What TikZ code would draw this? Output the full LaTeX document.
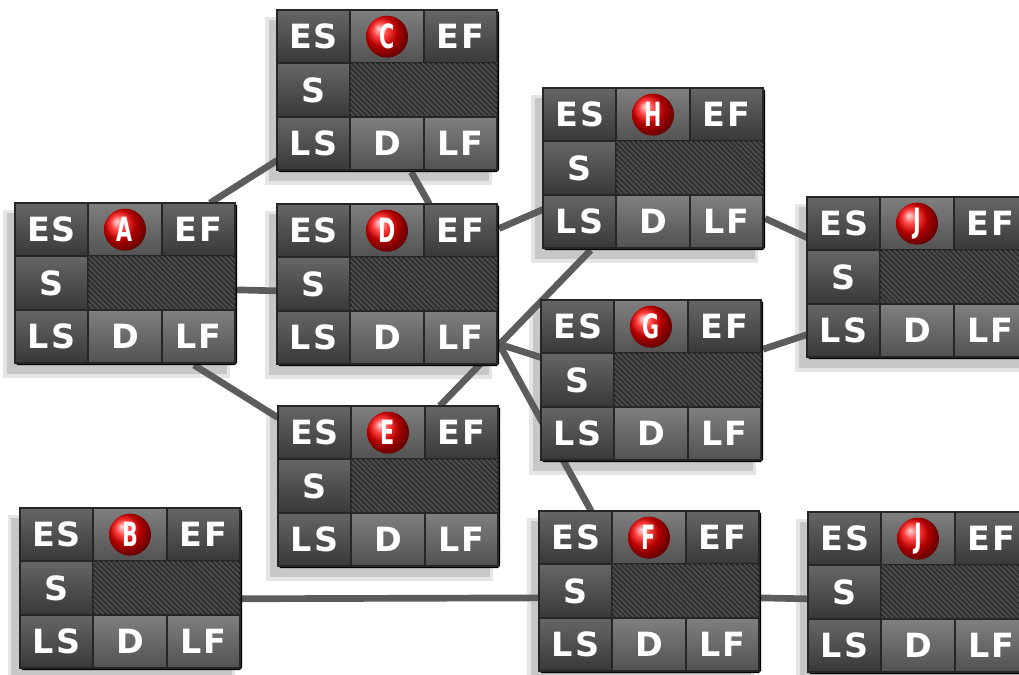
\documentclass[tikz,border=0pt]{standalone}
\usepackage{fontspec}
\usepackage{tikz}
\usetikzlibrary{positioning}
\usetikzlibrary{patterns}
\usetikzlibrary{shadings}
\newfontfamily\cellfamily[LetterSpace=6]{DejaVu Sans}
\newfontfamily\ballfamily[FakeStretch=0.62]{DejaVu Sans}
\pgfdeclarelayer{shade}
\pgfdeclarelayer{back}
\pgfsetlayers{shade,back,main}
\tikzset{
    actbox/.style={rectangle, draw=black, line width=1.2pt, rounded corners=1pt,
        minimum width=4.4cm, minimum height=3.2cm, inner sep=0pt, anchor=north west},
    cell/.style={rectangle, draw=black!85, line width=1pt, inner sep=0pt,
        minimum width=1.4667cm, minimum height=1.0667cm,
        top color=black!60, bottom color=black!78, text=white,
        font=\cellfamily\bfseries\fontsize{19}{19}\selectfont},
    lightcell/.style={cell, top color=black!50, bottom color=black!68},
    hatch/.style={rectangle, draw=black!85, line width=1pt, inner sep=0pt,
        minimum width=2.9333cm, minimum height=1.0667cm, fill=black!80,
        postaction={pattern=north west lines, pattern color=black!62}},
    ball/.style={circle, ball color=red, minimum size=0.84cm, inner sep=0pt,
        text=white, font=\ballfamily\bfseries\fontsize{19}{19}\selectfont},
    link/.style={line width=3.8pt, draw=black!64}
}
\newcommand{\activity}[4]{ % Takes node name, x coord, y coord of the top-left corner, activity letter as arguments
    \node [actbox] (#1) at (#2, #3) {};
    \begin{scope}[shift={(#2, #3)}]
        \begin{pgfonlayer}{shade}
            \fill[black!10] (-0.24,-0.13) rectangle (4.3,-3.5);
            \fill[black!22] (-0.17,-0.2) rectangle (4.24,-3.42);
        \end{pgfonlayer}
        \node [cell] (#1-es) at (0.733, -0.533) {ES};
        \node [lightcell] (#1-top) at (2.2, -0.533) {};
        \node [ball] (#1-ball) at (2.2, -0.533) {#4};
        \node [cell] (#1-ef) at (3.667, -0.533) {EF};
        \node [cell] (#1-s) at (0.733, -1.6) {S};
        \node [hatch] (#1-h) at (2.933, -1.6) {};
        \node [cell] (#1-ls) at (0.733, -2.667) {LS};
        \node [lightcell] (#1-d) at (2.2, -2.667) {D};
        \node [lightcell] (#1-lf) at (3.667, -2.667) {LF};
    \end{scope}
}

\begin{document}
\begin{tikzpicture}
        \useasboundingbox (0,0) rectangle (20.38,-13.48);

        % Activity boxes
        \activity{A}{0.30}{-4.06}{A}
        \activity{B}{0.40}{-10.16}{B}
        \activity{C}{5.54}{-0.20}{C}
        \activity{D}{5.54}{-4.08}{D}
        \activity{E}{5.56}{-8.12}{E}
        \activity{H}{10.86}{-1.76}{H}
        \activity{G}{10.82}{-6.00}{G}
        \activity{F}{10.78}{-10.22}{F}
        \activity{J1}{16.14}{-3.94}{J}
        \activity{J2}{16.16}{-10.24}{J}

        % Dependencies
        \begin{pgfonlayer}{back}
            \draw[link] (A.44) -- (C.212);
            \draw[link] (A.-3) -- (D.183);
            \draw[link] (A.-50) -- (E.148);
            \draw[link] (C.-74) -- (D.63);
            \draw[link] (D.27) -- (H.200);
            \draw[link] (E.58) -- (H.232);
            \draw[link] (D.-28) -- (G.168);
            \draw[link] (D.-28) -- (F.126);
            \draw[link] (H.-24) -- (J1.160);
            \draw[link] (G.16) -- (J1.207);
            \draw[link] (B.-5) -- (F.183);
            \draw[link] (F.-3) -- (J2.183);
        \end{pgfonlayer}
    \end{tikzpicture}
\end{document}
